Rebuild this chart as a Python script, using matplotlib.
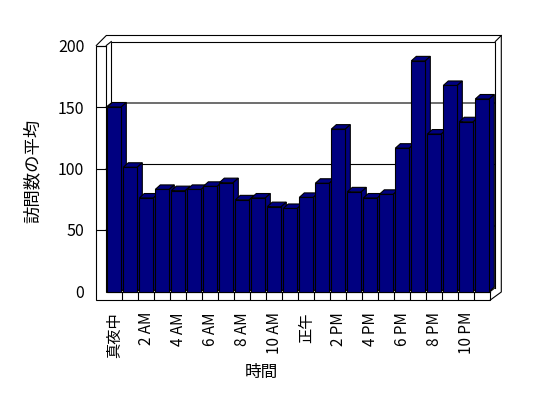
import numpy as np
import matplotlib.pyplot as plt

plt.rcParams['font.family'] = ['Noto Sans CJK JP', 'DejaVu Sans']

# データ（1時間ごとの平均訪問数）
visits = [150, 101, 76, 83, 82, 83, 85.5, 88.5, 74.5, 76, 69, 67.5,
          76.5, 88, 132, 81, 76, 79, 116.5, 187.5, 128, 167.5, 138, 156.5]
hour_labels = ['真夜中', '2 AM', '4 AM', '6 AM', '8 AM', '10 AM',
               '正午', '2 PM', '4 PM', '6 PM', '8 PM', '10 PM']
y_ticks = [0, 50, 100, 150, 200]
y_title = '訪問数の平均'
x_title = '時間'

NAVY = '#000080'
W, H = 548, 398
# 手前の面（ピクセル）
L, R, T, B = 106.3, 490.3, 45.5, 291.5

fig = plt.figure(figsize=(W / 100, H / 100), dpi=100)
ax = fig.add_axes([L / W, 1 - B / H, (R - L) / W, (B - T) / H])
n = len(visits)
ymax = y_ticks[-1]
ax.set_xlim(-0.5, n - 0.5)
ax.set_ylim(0, ymax)
for s in ax.spines.values():
    s.set_visible(False)

# 1px あたりのデータ単位
sx = n / (R - L)
sy = ymax / (B - T)


def seg(xs, ys, z=2):
    ax.plot(xs, ys, color='k', lw=0.8, clip_on=False, zorder=z,
            solid_capstyle='projecting', solid_joinstyle='miter')


x0, x1 = -0.5, n - 0.5
bdx, bdy = 5 * sx, 4 * sy      # 奥の壁までのずれ
wall = 10 * sx                 # 左壁の厚み
floor = 8.5 * sy               # 床の厚み
slab_x, slab_y = 6 * sx, 6 * sy

# 奥の壁
seg([x0 + bdx, x0 + bdx, x1 + bdx, x1 + bdx], [bdy, ymax + bdy, ymax + bdy, bdy])
for v in y_ticks[1:-1]:
    seg([x0, x0 + bdx, x1 + bdx], [v, v + bdy, v + bdy])
seg([x0, x0 + bdx], [ymax, ymax + bdy])
seg([x1 + bdx, x1 + bdx + slab_x], [ymax + bdy, ymax + bdy + slab_y])

# 左壁と床（前面）
seg([x0, x0 - wall, x0 - wall, x1, x1], [ymax, ymax, -floor, -floor, 0])
seg([x0, x0, x1], [ymax, 0, 0])
seg([x1, x1 + bdx], [0, bdy])

# 外枠
top_v = ymax + bdy + slab_y
seg([x0 - wall, x0 - wall + (top_v - ymax) / sy * sx, x1 + bdx + slab_x,
     x1 + bdx + slab_x, x1],
    [ymax, top_v, top_v, -0.5 * sy, -floor])

# 棒（前面・上面・側面）
bars = ax.bar(range(n), visits, width=0.875, color=NAVY, edgecolor='k',
              linewidth=0.8)
ddx, ddy = 5 * sx, 4.5 * sy
for k, (rect, v) in enumerate(zip(bars, visits)):
    xl = rect.get_x()
    xr = xl + rect.get_width()
    z = 3 + 2 * k
    rect.set_zorder(z + 1)
    rect.set_clip_on(False)
    top = [(xl, v), (xl + ddx, v + ddy), (xr + ddx, v + ddy), (xr, v)]
    side = [(xr, 0), (xr + ddx, ddy), (xr + ddx, v + ddy), (xr, v)]
    for poly in (top, side):
        xs, ys = zip(*poly)
        ax.fill(xs, ys, facecolor=NAVY, edgecolor='k', lw=0.8, zorder=z,
                clip_on=False)

# 目盛り
ax.set_yticks(y_ticks)
ax.tick_params(axis='y', length=7.2, width=0.8, pad=8.6, labelsize=11.5)
ax.yaxis.get_major_ticks()[0].tick1line.set_visible(False)

ax.set_xticks(range(0, n, 2))
ax.set_xticklabels(hour_labels, rotation=90)
ax.tick_params(axis='x', which='major', length=0, pad=14.8, labelsize=11)
ax.set_xticks(np.arange(0.5, n - 1, 1), minor=True)
ax.tick_params(axis='x', which='minor', length=6.1, width=0.8)

ax.set_ylabel(y_title, fontsize=12.5)
ax.yaxis.set_label_coords(-0.168, 0.49)
ax.set_xlabel(x_title, fontsize=12)
ax.xaxis.set_label_coords(0.403, -0.295)

fig.savefig('out.png', dpi=100)
